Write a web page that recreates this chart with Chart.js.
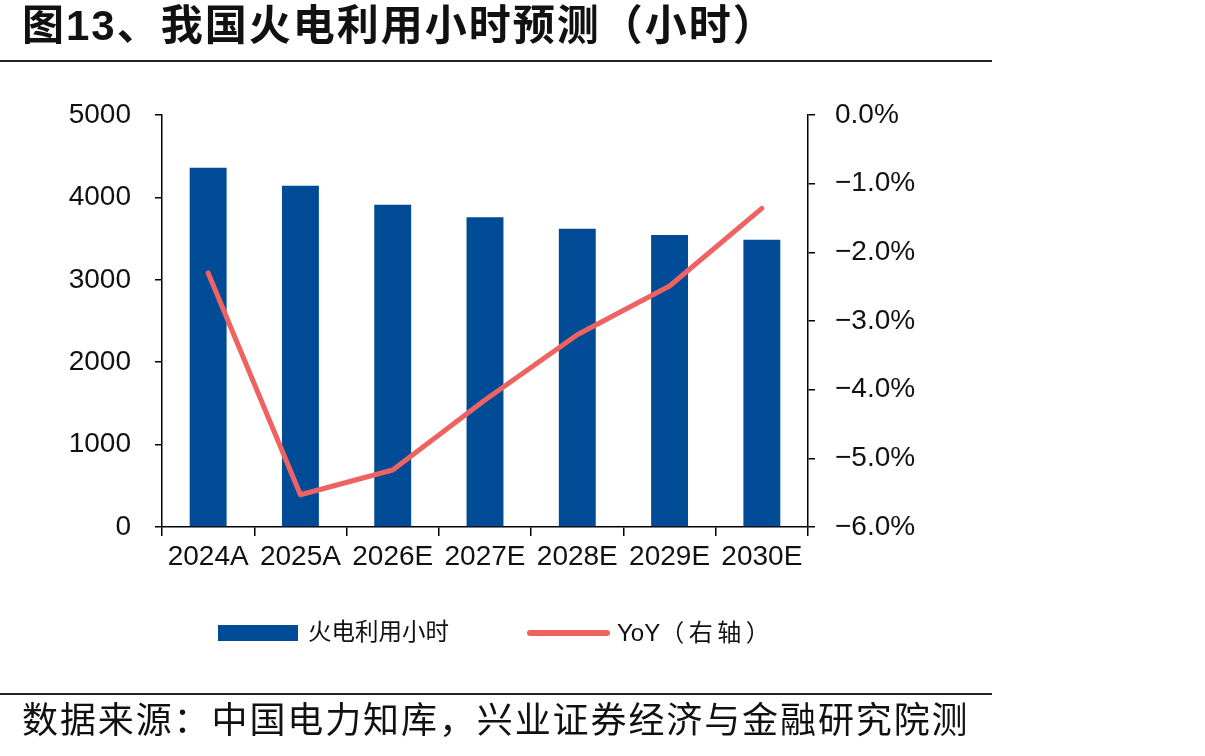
<!DOCTYPE html>
<html>
<head>
<meta charset="utf-8">
<script src="https://cdn.jsdelivr.net/npm/chart.js@4.4.1/dist/chart.umd.min.js"></script>
<style>
  body { margin: 0; background: #fff; }
  #wrap { position: relative; width: 1205px; height: 756px; overflow: hidden; font-family: "Liberation Sans", "Noto Sans CJK SC", sans-serif; color: #111; }
  #chart { position: absolute; left: 0; top: 0; }
  .title { position: absolute; left: 22px; top: 5px; font-size: 42px; font-weight: bold; line-height: 1; letter-spacing: 2px; white-space: nowrap; }
  .rule { position: absolute; left: 0; width: 992px; height: 2px; background: #222; }
  .source { position: absolute; left: 22px; top: 703px; font-size: 36px; line-height: 1; letter-spacing: 1.9px; white-space: nowrap; }
  .lg { position: absolute; font-size: 24px; line-height: 1; white-space: nowrap; }
</style>
</head>
<body>
<div id="wrap">
  <canvas id="chart" width="1205" height="756"></canvas>
  <div class="title">图13、我国火电利用小时预测（小时）</div>
  <div class="rule" style="top:60px"></div>
  <div class="rule" style="top:693px"></div>
  <div class="source">数据来源：中国电力知库，兴业证券经济与金融研究院测</div>

  <div style="position:absolute;left:218px;top:625px;width:80px;height:16px;background:#004B96"></div>
  <div class="lg" style="left:308px;top:621px;font-size:23.5px">火电利用小时</div>
  <div style="position:absolute;left:527px;top:630px;width:83px;height:6px;border-radius:3px;background:#EE6262"></div>
  <div class="lg" style="left:617px;top:621px">YoY<span style="letter-spacing:4.5px">（右轴）</span></div>
</div>
<script>
const years = ["2024A", "2025A", "2026E", "2027E", "2028E", "2029E", "2030E"];
const hours = [4360, 4140, 3910, 3760, 3620, 3545, 3485];
const yoy = [-2.30, -5.53, -5.17, -4.15, -3.20, -2.49, -1.36];

const tickFont = { family: "Liberation Sans", size: 28 };

new Chart(document.getElementById("chart"), {
  data: {
    labels: years,
    datasets: [
      {
        type: "line",
        label: "YoY（右轴）",
        data: yoy,
        yAxisID: "y1",
        borderColor: "#EE6262",
        borderWidth: 5,
        borderCapStyle: "round",
        borderJoinStyle: "round",
        pointRadius: 0,
        tension: 0,
        order: 0,
      },
      {
        type: "bar",
        label: "火电利用小时",
        data: hours,
        yAxisID: "y",
        backgroundColor: "#004B96",
        barPercentage: 0.4,
        categoryPercentage: 1,
        order: 1,
      },
    ],
  },
  options: {
    responsive: false,
    animation: false,
    layout: { padding: { top: 115, bottom: 169, left: 0, right: 0 } },
    plugins: { legend: { display: false }, tooltip: { enabled: false } },
    scales: {
      x: {
        grid: { offset: true, drawOnChartArea: false, tickLength: 9, color: "#000", lineWidth: 1.5 },
        border: { color: "#000", width: 1.5 },
        ticks: { font: tickFont, color: "#111", padding: 4, maxRotation: 0, autoSkip: false },
        afterFit: (s) => { s.height = 60; },
      },
      y: {
        position: "left",
        min: 0,
        max: 5000,
        ticks: { stepSize: 1000, font: tickFont, color: "#111", padding: 24, callback: (v) => String(v) },
        grid: { drawOnChartArea: false, tickLength: 7, color: "#000", lineWidth: 1.5 },
        border: { color: "#000", width: 1.5 },
        afterFit: (s) => { s.width = 162; },
      },
      y1: {
        position: "right",
        min: -6,
        max: 0,
        ticks: {
          stepSize: 1,
          font: tickFont,
          color: "#111",
          padding: 20,
          callback: (v) => (v > -0.001 ? "0.0%" : "\u2212" + Math.abs(v).toFixed(1) + "%"),
        },
        grid: { drawOnChartArea: false, tickLength: 7, color: "#000", lineWidth: 1.5 },
        border: { color: "#000", width: 1.5 },
        afterFit: (s) => { s.width = 1205 - 808; },
      },
    },
  },
});
</script>
</body>
</html>
